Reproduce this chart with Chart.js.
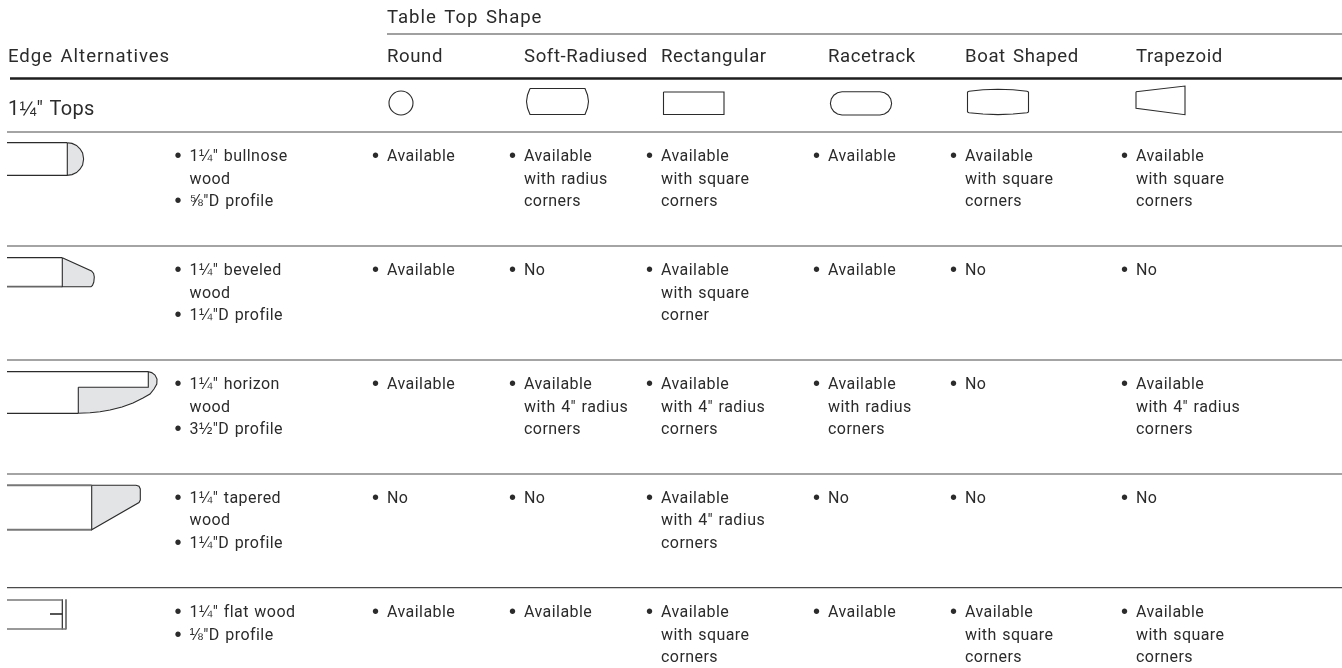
<!DOCTYPE html>
<html>
<head>
<meta charset="utf-8">
<style>html,body{margin:0;padding:0;background:#fff}canvas{display:block}</style>
<script src="https://cdn.jsdelivr.net/npm/chart.js@4/dist/chart.umd.min.js"></script>
</head>
<body>
<canvas id="c" width="1342" height="668"></canvas>
<script>
// ---- table content ----
const groupTitle = 'Table Top Shape';
const rowTitle = 'Edge Alternatives';
const topsTitle = '1¼" Tops';
const shapes = ['Round', 'Soft-Radiused', 'Rectangular', 'Racetrack', 'Boat Shaped', 'Trapezoid'];
const edges = [
  ['• 1¼" bullnose', 'wood', '• ⅝"D profile'],
  ['• 1¼" beveled', 'wood', '• 1¼"D profile'],
  ['• 1¼" horizon', 'wood', '• 3½"D profile'],
  ['• 1¼" tapered', 'wood', '• 1¼"D profile'],
  ['• 1¼" flat wood', '• ⅛"D profile']
];
const round = ['• Available', '• Available', '• Available', '• No', '• Available'];
const softRadiused = ['• Available\nwith radius\ncorners', '• No', '• Available\nwith 4" radius\ncorners', '• No', '• Available'];
const rectangular = ['• Available\nwith square\ncorners', '• Available\nwith square\ncorner', '• Available\nwith 4" radius\ncorners', '• Available\nwith 4" radius\ncorners', '• Available\nwith square\ncorners'];
const racetrack = ['• Available', '• Available', '• Available\nwith radius\ncorners', '• No', '• Available'];
const boatShaped = ['• Available\nwith square\ncorners', '• No', '• No', '• No', '• Available\nwith square\ncorners'];
const trapezoid = ['• Available\nwith square\ncorners', '• No', '• Available\nwith 4" radius\ncorners', '• No', '• Available\nwith square\ncorners'];
const cells = [round, softRadiused, rectangular, racetrack, boatShaped, trapezoid];

// ---- layout (scale units = page pixels) ----
const colX = [387, 524, 661, 828, 965, 1136];
const edgeX = 189.5;
const rowBaseline = [161, 275, 389, 502.5, 617];
const lineStep = 22.5;
const INK = '#2b2b2b', RULE = '#4a4a4a', GREY = '#e3e4e6';
const FONT = '"Roboto", sans-serif';
const FRACTION_FONT = '"Liberation Sans", sans-serif';

const rules = [
  {y: 34, x0: 387, w: 1.4, c: '#808080'},
  {y: 78.5, x0: 10, w: 2.6, c: '#1e1e1e'},
  {y: 132, x0: 7, w: 1.2, c: RULE},
  {y: 246, x0: 7, w: 1.2, c: RULE},
  {y: 360, x0: 7, w: 1.2, c: RULE},
  {y: 474, x0: 7, w: 1.2, c: RULE},
  {y: 587.7, x0: 7, w: 1.2, c: RULE}
];

// Outline vertices of the small drawings
const P = s => s.trim().split(/\s+/).map(t => { const [x, y] = t.split(',').map(Number); return {x, y}; });
const outlines = [
  // top-shape icons
  {d: '530,88.5 585,88.5 587.5,95 588.5,101.5 587.5,108 585,114.5 530,114.5 527.5,108 526.5,101.5 527.5,95 530,88.5'},
  {d: '663.5,92 724,92 724,114.5 663.5,114.5 663.5,92'},
  {d: '842,91.8 880,91.8 884.5,92.7 888.2,95.2 890.7,99 891.6,103.4 890.7,107.8 888.2,111.5 884.5,114 880,115 842,115 837.5,114 833.8,111.5 831.3,107.8 830.4,103.4 831.3,99 833.8,95.2 837.5,92.7 842,91.8'},
  {d: '969,91.2 983,89.8 998,89.2 1013,89.8 1027,91.2 1028.5,92 1028.5,112 1027,112.8 1013,114 998,114.6 983,114 969,112.8 967.5,112 967.5,92 969,91.2'},
  {d: '1136,91.7 1185,86 1185,114.7 1136,108.3 1136,91.7'},
  // bullnose
  {d: '67.3,142.7 72,143.4 76.5,145.4 80,148.8 82.6,153 83.6,159 82.6,165 80,169.2 76.5,172.6 72,174.6 67.3,175.3 67.3,142.7', f: GREY},
  {d: '7,142.7 67.3,142.7', w: 1.2},
  {d: '7,175.3 67.3,175.3', w: 1.2},
  // beveled
  {d: '62.3,257.7 91.5,271 93.6,273.5 94.3,277 93.8,282 92.5,285.5 91,286.7 62.3,286.7 62.3,257.7', f: GREY},
  {d: '7,257.7 62.3,257.7', w: 1.2},
  {d: '7,286.7 62.3,286.7', w: 1.8, c: '#666'},
  // horizon
  {d: '78.3,387.3 148.3,387.3 148.3,371.7 151.7,372.6 155,375 157,379 156.8,384 154,389 150,394 143,398 133,403 122,407 110,410 100,411.7 90,412.8 78.3,413.3 78.3,387.3', f: GREY},
  {d: '7,371.7 148.3,371.7', w: 1.2},
  {d: '7,413.3 78.3,413.3', w: 1.2},
  // tapered
  {d: '91.7,485.3 136,485.3 139,486.3 140.3,489 140.3,500 139,502.5 91.7,529.7 91.7,485.3', f: GREY},
  {d: '7,485.3 91.7,485.3', w: 2, c: '#777'},
  {d: '7,529.7 91.7,529.7', w: 2, c: '#777'},
  // flat
  {d: '7,600 62.3,600', w: 1.6, c: '#777'},
  {d: '7,629 66,629', w: 1.6, c: '#777'},
  {d: '62.3,599.3 62.3,629.5', w: 1.2},
  {d: '66,599.3 66,629.5', w: 1.2},
  {d: '50,614 62.3,614', w: 1.6}
];

const datasets = [];
rules.forEach(r => datasets.push({
  data: [{x: r.x0, y: r.y}, {x: 1342, y: r.y}],
  borderColor: r.c, borderWidth: r.w, pointRadius: 0, showLine: true, fill: false, tension: 0
}));
outlines.forEach(o => datasets.push({
  data: P(o.d),
  borderColor: o.c || INK, borderWidth: o.w || 1.1, pointRadius: 0, showLine: true,
  fill: o.f ? 'shape' : false, backgroundColor: o.f || 'transparent', tension: 0
}));
// round top icon
datasets.push({
  data: [{x: 401, y: 103}], showLine: false, pointStyle: 'circle', pointRadius: 12,
  pointBorderColor: INK, pointBorderWidth: 1.1, pointBackgroundColor: '#fff'
});

const textPlugin = {
  id: 'tableText',
  afterDatasetsDraw(chart) {
    const {ctx, scales: {x, y}} = chart;
    const put = (str, px, py, size, spacing, word, family) => {
      let cx = x.getPixelForValue(px);
      const cy = y.getPixelForValue(py);
      ctx.letterSpacing = spacing + 'px';
      ctx.wordSpacing = (word || 0) + 'px';
      // vulgar fractions come from a font whose fraction glyphs are full size
      str.split(/([¼½⅛⅝])/).filter(Boolean).forEach(run => {
        const isFraction = /[¼½⅛⅝]/.test(run);
        ctx.font = size + 'px ' + (isFraction ? FRACTION_FONT : (family || FONT));
        ctx.fillText(run, cx, cy);
        cx += ctx.measureText(run).width;
      });
    };
    const bodyRun = (line, px, py) => put(line, px, py, 16, 0.45, 1);
    const body = (line, px, py) => {
      if (line.startsWith('• ')) {
        put('•', px - 15, py + 1, 20, 0, 0, '"Liberation Sans"');
        bodyRun(line.slice(2), px, py);
      } else bodyRun(line, px, py);
    };
    ctx.save();
    ctx.fillStyle = INK;
    ctx.textAlign = 'left';
    ctx.textBaseline = 'alphabetic';
    put(groupTitle, 387, 22.5, 18.6, 0.95, 2);
    put(rowTitle, 8, 61.5, 18.6, 0.95, 2);
    put(topsTitle, 8, 115, 20, 0.3, 1);
    shapes.forEach((s, i) => put(s, colX[i], 61.5, 18.6, 0.6, 2));
    edges.forEach((lines, r) => lines.forEach((l, k) => body(l, edgeX, rowBaseline[r] + k * lineStep)));
    cells.forEach((col, c) => col.forEach((cell, r) => {
      cell.split('\n').forEach((l, k) => body(l, colX[c], rowBaseline[r] + k * lineStep));
    }));
    ctx.restore();
  }
};

new Chart(document.getElementById('c'), {
  type: 'scatter',
  data: {datasets},
  plugins: [textPlugin],
  options: {
    responsive: false,
    animation: false,
    events: [],
    layout: {padding: 0, autoPadding: false},
    plugins: {legend: {display: false}, tooltip: {enabled: false}, title: {display: false}},
    scales: {
      x: {type: 'linear', min: 0, max: 1342, display: false},
      y: {type: 'linear', min: 0, max: 668, reverse: true, display: false}
    }
  }
});
</script>
</body>
</html>
